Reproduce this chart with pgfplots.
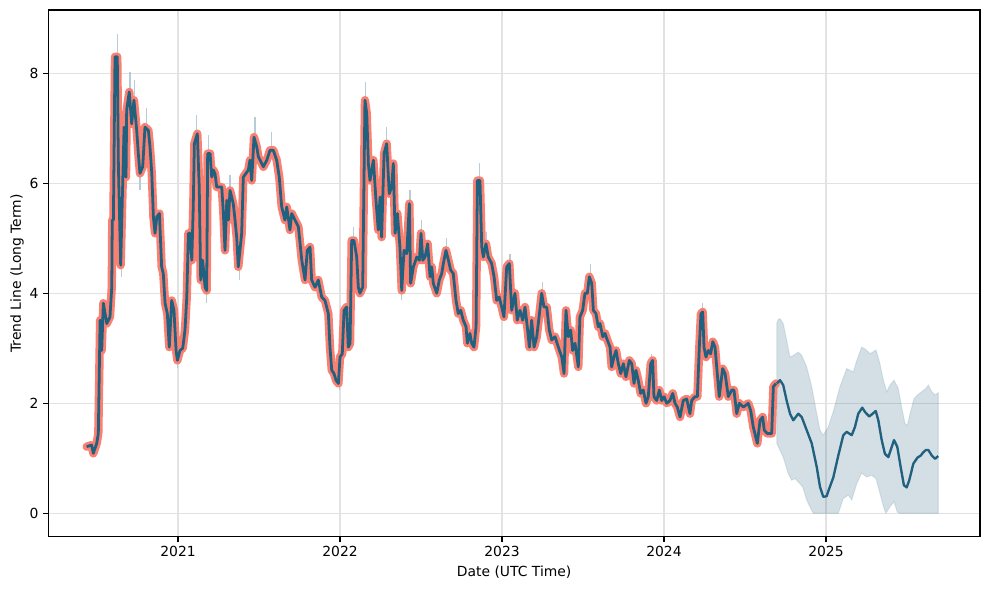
\documentclass[border=0pt]{standalone}
\usepackage{pgfplots}
\pgfplotsset{compat=1.18}
\usepackage{pgfplotstable}
\usepackage{fontspec}
\setmainfont{DejaVu Sans}
\definecolor{trend}{HTML}{22607F}
\definecolor{salm}{HTML}{FA8072}
\definecolor{gridc}{HTML}{E2E2E2}
\definecolor{spike}{HTML}{B8CCD8}

\pgfplotstableread{
x y
2020.436 1.21
2020.467 1.24
2020.477 1.09
2020.498 1.27
2020.508 1.45
2020.519 3.51
2020.529 2.96
2020.539 3.82
2020.560 3.45
2020.580 3.57
2020.591 4.11
2020.594 5.33
2020.601 5.33
2020.611 8.30
2020.625 8.30
2020.632 6.30
2020.646 4.51
2020.659 6.05
2020.667 7.02
2020.679 6.11
2020.683 7.33
2020.699 7.66
2020.714 7.08
2020.728 7.51
2020.745 6.96
2020.755 6.54
2020.765 6.18
2020.782 6.30
2020.796 7.02
2020.817 6.96
2020.827 6.66
2020.838 6.18
2020.848 5.39
2020.858 5.09
2020.869 5.39
2020.885 5.45
2020.899 4.48
2020.909 4.36
2020.920 3.82
2020.934 3.63
2020.946 3.02
2020.961 3.87
2020.975 3.69
2020.988 2.96
2020.996 2.78
2021.012 2.96
2021.029 3.00
2021.043 3.33
2021.054 3.93
2021.064 5.09
2021.074 5.09
2021.085 4.60
2021.094 5.57
2021.101 6.72
2021.119 6.90
2021.131 5.93
2021.140 4.24
2021.152 4.60
2021.167 4.11
2021.177 4.05
2021.183 6.54
2021.198 6.54
2021.208 6.11
2021.218 6.24
2021.228 6.18
2021.239 5.93
2021.270 5.93
2021.280 5.45
2021.290 4.78
2021.301 5.69
2021.311 5.33
2021.321 5.87
2021.341 5.63
2021.352 5.33
2021.362 5.02
2021.372 4.48
2021.393 5.09
2021.403 6.11
2021.434 6.24
2021.444 6.42
2021.455 6.05
2021.469 6.84
2021.486 6.66
2021.496 6.48
2021.527 6.30
2021.548 6.42
2021.568 6.60
2021.588 6.60
2021.609 6.42
2021.625 6.11
2021.640 5.57
2021.660 5.33
2021.671 5.57
2021.691 5.15
2021.702 5.45
2021.722 5.33
2021.743 5.21
2021.764 4.60
2021.784 4.24
2021.798 4.78
2021.815 4.84
2021.825 4.24
2021.846 4.11
2021.866 4.24
2021.887 3.93
2021.907 3.87
2021.928 3.63
2021.938 3.02
2021.949 2.60
2021.963 2.54
2021.975 2.42
2021.990 2.36
2022.000 2.84
2022.014 2.90
2022.025 3.69
2022.041 3.75
2022.051 3.02
2022.062 3.09
2022.072 4.96
2022.086 4.96
2022.103 4.66
2022.113 4.11
2022.123 4.00
2022.140 4.11
2022.154 7.51
2022.165 7.27
2022.175 6.36
2022.185 6.05
2022.206 6.42
2022.222 5.69
2022.236 5.15
2022.247 5.75
2022.257 5.02
2022.272 6.54
2022.288 6.72
2022.304 5.81
2022.319 5.93
2022.329 6.36
2022.340 5.09
2022.354 5.45
2022.370 4.84
2022.381 4.05
2022.395 4.78
2022.412 4.72
2022.428 5.63
2022.436 4.18
2022.453 4.48
2022.474 4.66
2022.490 4.60
2022.500 5.09
2022.511 4.60
2022.525 4.66
2022.541 4.90
2022.556 4.30
2022.566 4.48
2022.576 4.18
2022.597 4.00
2022.613 4.24
2022.628 4.36
2022.638 4.54
2022.654 4.78
2022.669 4.60
2022.683 4.42
2022.699 4.36
2022.716 3.87
2022.730 3.63
2022.745 3.69
2022.761 3.51
2022.778 3.39
2022.786 3.09
2022.802 3.27
2022.813 3.09
2022.827 3.02
2022.840 3.39
2022.848 6.05
2022.864 6.05
2022.875 4.84
2022.885 4.66
2022.901 4.90
2022.915 4.66
2022.936 4.54
2022.951 4.30
2022.967 3.87
2022.983 3.93
2022.998 3.75
2023.012 3.57
2023.029 4.48
2023.045 4.54
2023.060 3.69
2023.080 4.00
2023.094 3.51
2023.111 3.69
2023.128 3.51
2023.142 3.75
2023.156 3.39
2023.169 3.02
2023.183 3.51
2023.198 3.02
2023.214 3.20
2023.230 3.60
2023.245 4.00
2023.259 3.75
2023.276 3.75
2023.292 3.33
2023.307 3.15
2023.327 3.21
2023.348 3.02
2023.369 2.84
2023.383 2.54
2023.395 3.69
2023.409 3.21
2023.424 3.33
2023.436 2.96
2023.451 3.09
2023.471 2.66
2023.481 3.57
2023.498 3.69
2023.512 4.00
2023.527 4.00
2023.539 4.30
2023.554 4.18
2023.564 3.69
2023.580 3.63
2023.594 3.39
2023.605 3.45
2023.622 3.21
2023.636 3.27
2023.650 3.15
2023.667 3.02
2023.677 2.66
2023.691 2.84
2023.704 2.96
2023.718 2.72
2023.733 2.54
2023.749 2.72
2023.765 2.48
2023.786 2.78
2023.801 2.72
2023.815 2.36
2023.827 2.60
2023.841 2.42
2023.856 2.18
2023.872 2.24
2023.889 2.00
2023.903 2.12
2023.918 2.72
2023.930 2.78
2023.938 2.12
2023.955 2.05
2023.971 2.24
2023.986 2.05
2024.000 2.12
2024.017 2.00
2024.037 2.05
2024.054 2.18
2024.068 2.00
2024.082 1.93
2024.099 1.75
2024.119 2.05
2024.140 2.08
2024.160 1.81
2024.171 2.05
2024.191 2.12
2024.206 2.12
2024.218 3.02
2024.228 3.63
2024.239 3.66
2024.247 3.02
2024.259 2.84
2024.274 2.96
2024.288 2.90
2024.301 3.12
2024.315 3.02
2024.341 2.12
2024.362 2.63
2024.377 2.54
2024.397 2.12
2024.418 2.24
2024.432 2.24
2024.449 1.81
2024.465 2.00
2024.490 1.93
2024.520 2.00
2024.535 1.87
2024.551 1.57
2024.576 1.27
2024.593 1.69
2024.609 1.75
2024.619 1.51
2024.638 1.45
2024.665 1.45
2024.675 2.30
2024.691 2.36
}\histdata

\pgfplotstableread{
x y
2024.696 2.36
2024.716 2.42
2024.736 2.33
2024.757 2.05
2024.778 1.81
2024.798 1.69
2024.829 1.81
2024.850 1.75
2024.881 1.51
2024.912 1.27
2024.943 0.84
2024.963 0.48
2024.983 0.30
2025.004 0.31
2025.014 0.40
2025.045 0.65
2025.076 1.05
2025.107 1.42
2025.128 1.48
2025.159 1.42
2025.179 1.57
2025.199 1.81
2025.224 1.92
2025.241 1.84
2025.267 1.76
2025.288 1.81
2025.307 1.86
2025.323 1.69
2025.344 1.33
2025.364 1.08
2025.385 1.02
2025.406 1.21
2025.420 1.33
2025.440 1.21
2025.461 0.84
2025.481 0.51
2025.498 0.47
2025.514 0.60
2025.539 0.90
2025.564 1.01
2025.585 1.05
2025.601 1.11
2025.617 1.15
2025.632 1.15
2025.653 1.05
2025.673 0.99
2025.693 1.04
}\fcstdata

% forecast band: upper bound left to right, then lower bound right to left
\pgfplotstableread{
x y
2024.696 3.45
2024.704 3.52
2024.716 3.54
2024.736 3.45
2024.757 3.15
2024.778 2.84
2024.798 2.87
2024.829 2.93
2024.850 2.87
2024.881 2.66
2024.912 2.30
2024.943 1.81
2024.963 1.51
2024.983 1.42
2025.014 1.57
2025.045 1.85
2025.086 2.30
2025.128 2.63
2025.169 2.57
2025.190 2.78
2025.220 3.02
2025.241 2.99
2025.272 2.90
2025.309 2.97
2025.333 2.72
2025.354 2.42
2025.375 2.21
2025.395 2.33
2025.420 2.42
2025.446 2.27
2025.467 1.93
2025.488 1.63
2025.502 1.60
2025.519 1.81
2025.543 2.08
2025.564 2.15
2025.591 2.21
2025.617 2.27
2025.632 2.33
2025.653 2.21
2025.673 2.15
2025.693 2.19
2025.693 0.00
2025.457 0.00
2025.440 0.02
2025.420 0.21
2025.395 0.12
2025.370 0.00
2025.358 0.09
2025.333 0.36
2025.309 0.63
2025.282 0.69
2025.251 0.66
2025.220 0.73
2025.190 0.54
2025.159 0.24
2025.138 0.33
2025.107 0.27
2025.076 0.00
2024.922 0.00
2024.912 0.05
2024.881 0.24
2024.856 0.48
2024.829 0.57
2024.809 0.63
2024.788 0.60
2024.767 0.72
2024.736 1.02
2024.696 1.27
}\banddata

\pgfplotstableread{
x y
2020.625 8.30
2020.625 8.71
2020.625 nan
2020.704 7.50
2020.704 8.02
2020.704 nan
2020.730 7.40
2020.730 7.87
2020.730 nan
2020.807 6.90
2020.807 7.36
2020.807 nan
2020.765 6.18
2020.765 5.87
2020.765 nan
2020.652 4.60
2020.652 4.30
2020.652 nan
2021.115 6.85
2021.115 7.24
2021.115 nan
2021.187 6.50
2021.187 6.87
2021.187 nan
2021.321 5.87
2021.321 6.15
2021.321 nan
2021.378 4.60
2021.378 4.24
2021.378 nan
2020.996 2.80
2020.996 2.64
2020.996 nan
2021.177 4.05
2021.177 3.82
2021.177 nan
2021.475 6.80
2021.475 7.21
2021.475 nan
2021.578 6.60
2021.578 6.93
2021.578 nan
2021.996 2.40
2021.996 2.24
2021.996 nan
2022.159 7.45
2022.159 7.84
2022.159 nan
2022.082 4.96
2022.082 5.21
2022.082 nan
2022.288 6.72
2022.288 7.02
2022.288 nan
2022.432 5.40
2022.432 5.87
2022.432 nan
2022.860 6.05
2022.860 6.36
2022.860 nan
2022.504 5.00
2022.504 5.33
2022.504 nan
2022.659 4.70
2022.659 5.00
2022.659 nan
2022.381 4.05
2022.381 3.87
2022.381 nan
2022.906 4.85
2022.906 5.11
2022.906 nan
2023.049 4.50
2023.049 4.72
2023.049 nan
2023.251 3.95
2023.251 4.21
2023.251 nan
2023.548 4.25
2023.548 4.54
2023.548 nan
2023.924 2.75
2023.924 2.90
2023.924 nan
2024.239 3.66
2024.239 3.82
}\spikedata

\begin{document}
\begin{tikzpicture}
\useasboundingbox (-34.8pt,-38.4pt) rectangle (677.3pt,386.4pt);
\begin{axis}[
  at={(0pt,0pt)}, anchor=south west, scale only axis,
  width=670.8pt, height=379.2pt,
  xmin=2020.1994, xmax=2025.9506,
  ymin=-0.425, ymax=9.15,
  xtick={2021,2022,2023,2024,2025},
  xticklabels={2021,2022,2023,2024,2025},
  ytick={0,2,4,6,8},
  tick align=outside,
  xtick pos=left, ytick pos=left,
  major tick length=3.5pt,
  major tick style={black, line width=0.8pt},
  axis line style={line width=0.8pt},
  grid=major,
  major grid style={gridc, line width=0.8pt},
  /pgf/number format/assume math mode=true,
  tick label style={font=\fontsize{10}{12}\selectfont},
  label style={font=\fontsize{10}{12}\selectfont},
  xlabel={Date (UTC Time)},
  ylabel={Trend Line (Long Term)},
  xlabel style={at={(axis description cs:0.5,-0.0665)}, anchor=center},
  ylabel style={at={(axis description cs:-0.0335,0.5)}, anchor=center},
  unbounded coords=jump,
]
\addplot[fill=trend, fill opacity=0.2, draw=trend, draw opacity=0.12, line width=0.8pt] table[x=x,y=y] {\banddata} -- cycle;
\addplot[spike, line width=1pt] table[x=x,y=y] {\spikedata};
\addplot[salm, line width=6pt, line join=round, line cap=round] table[x=x,y=y] {\histdata};
\addplot[trend, line width=2pt, line join=round] table[x=x,y=y] {\histdata};
\addplot[trend, line width=1.7pt, line join=round] table[x=x,y=y] {\fcstdata};
\end{axis}
\end{tikzpicture}
\end{document}
